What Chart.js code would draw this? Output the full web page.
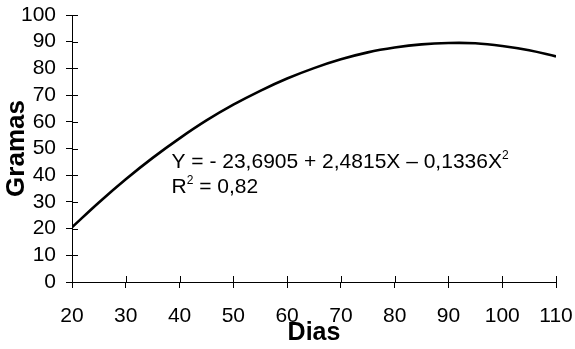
<!DOCTYPE html>
<html>
<head>
<meta charset="utf-8">
<script src="https://cdn.jsdelivr.net/npm/chart.js@4"></script>
<style>
  html, body { margin: 0; padding: 0; background: #fff; }
  canvas { display: block; }
</style>
</head>
<body>
<canvas id="chart" width="575" height="349"></canvas>
<script>
// values
const dias = [20, 25, 30, 35, 40, 45, 50, 55, 60, 65, 70, 75, 80, 85, 90, 95, 100, 105, 110];
const gramas = [20.5, 29.8, 38.5, 46.5, 53.8, 60.5, 66.4, 71.6, 76.2, 80.1, 83.4, 86.0, 87.8, 89.0, 89.5, 89.4, 88.4, 86.8, 84.5];

const eqText = 'Y = - 23,6905 + 2,4815X \u2013 0,1336X';
const r2Text = ' = 0,82';

const font = '"Liberation Sans", Arial, sans-serif';

const extras = {
    id: 'extras',
    afterDraw(chart) {
        const { ctx, scales: { x, y } } = chart;
        ctx.save();

        // inner half of the tick marks (they cross the axes)
        ctx.strokeStyle = '#000';
        ctx.lineWidth = 1;
        ctx.beginPath();
        y.ticks.forEach(t => {
            const py = Math.round(y.getPixelForValue(t.value)) + 0.5;
            ctx.moveTo(x.left, py);
            ctx.lineTo(x.left + 6, py);
        });
        x.ticks.forEach(t => {
            const px = Math.round(x.getPixelForValue(t.value)) + 0.5;
            ctx.moveTo(px, y.bottom);
            ctx.lineTo(px, y.bottom - 6);
        });
        ctx.stroke();

        // regression text
        ctx.fillStyle = '#000';
        ctx.textBaseline = 'alphabetic';
        let px = x.getPixelForValue(38.5);
        let py = y.getPixelForValue(42.8);
        ctx.font = '21px ' + font;
        ctx.fillText(eqText, px, py);
        let w = ctx.measureText(eqText).width;
        ctx.font = '12px ' + font;
        ctx.fillText('2', px + w, py - 9);

        py = y.getPixelForValue(33.4);
        ctx.font = '21px ' + font;
        ctx.fillText('R', px, py);
        w = ctx.measureText('R').width;
        ctx.font = '12px ' + font;
        ctx.fillText('2', px + w, py - 9);
        const w2 = ctx.measureText('2').width;
        ctx.font = '21px ' + font;
        ctx.fillText(r2Text, px + w + w2, py);

        ctx.restore();
    }
};

function noPad(scale) {
    scale.paddingTop = 0;
    scale.paddingBottom = 0;
    scale.paddingLeft = 0;
    scale.paddingRight = 0;
}

new Chart(document.getElementById('chart'), {
    type: 'line',
    data: {
        datasets: [{
            data: dias.map((d, i) => ({ x: d, y: gramas[i] })),
            borderColor: '#000',
            borderWidth: 2.6,
            pointRadius: 0,
            fill: false,
            tension: 0.4
        }]
    },
    options: {
        responsive: false,
        animation: false,
        layout: { padding: { left: 0, right: 19, top: 15, bottom: 0 } },
        plugins: {
            legend: { display: false },
            tooltip: { enabled: false }
        },
        scales: {
            x: {
                type: 'linear',
                min: 20,
                max: 110,
                ticks: { stepSize: 10, autoSkip: false, maxRotation: 0, color: '#000', padding: 16, font: { family: font, size: 21 } },
                grid: { drawOnChartArea: false, drawTicks: true, tickLength: 6, color: '#000' },
                border: { color: '#000', width: 1 },
                title: { display: true, text: 'Dias', color: '#000', padding: { top: 0, bottom: 1 }, font: { family: font, size: 25, weight: 'bold' } },
                afterFit(scale) { scale.height = 67; noPad(scale); }
            },
            y: {
                min: 0,
                max: 100,
                ticks: { stepSize: 10, autoSkip: false, color: '#000', padding: 10, font: { family: font, size: 21 } },
                grid: { drawOnChartArea: false, drawTicks: true, tickLength: 6, color: '#000' },
                border: { color: '#000', width: 1 },
                title: { display: true, text: 'Gramas', color: '#000', padding: { top: 1, bottom: 0 }, font: { family: font, size: 26, weight: 'bold' } },
                afterFit(scale) { scale.width = 72; noPad(scale); }
            }
        }
    },
    plugins: [extras]
});
</script>
</body>
</html>
